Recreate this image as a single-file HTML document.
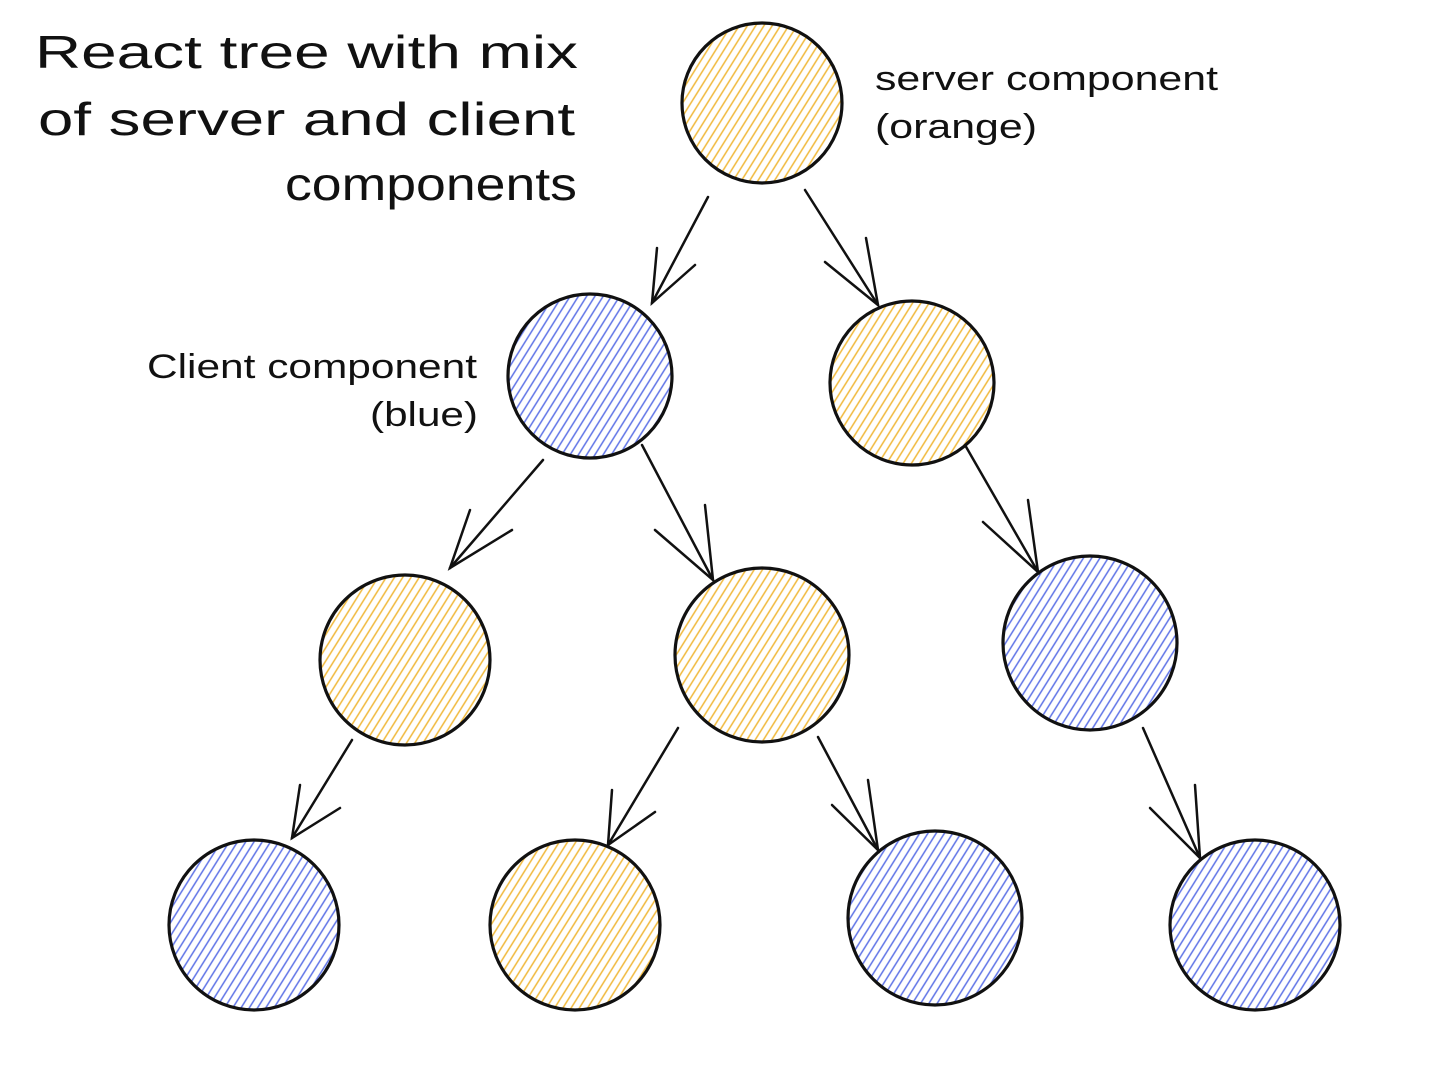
<!DOCTYPE html>
<html><head><meta charset="utf-8"><style>
html,body{margin:0;padding:0;background:#fff;}
svg{display:block;}
text{font-family:"Liberation Sans",sans-serif;fill:#111;}
</style></head><body>
<svg width="1444" height="1078" viewBox="0 0 1444 1078" xmlns="http://www.w3.org/2000/svg">
<defs>
<pattern id="ho" width="7" height="7" patternUnits="userSpaceOnUse" patternTransform="rotate(32)">
<line x1="3.5" y1="0" x2="3.5" y2="7" stroke="#f0b83a" stroke-width="1.5"/>
</pattern>
<pattern id="hb" width="7" height="7" patternUnits="userSpaceOnUse" patternTransform="rotate(32)">
<line x1="3.5" y1="0" x2="3.5" y2="7" stroke="#5d72e6" stroke-width="1.5"/>
</pattern>
</defs>

<g font-size="46">
<text x="35" y="68" textLength="543" lengthAdjust="spacingAndGlyphs">React tree with mix</text>
<text x="38" y="135" textLength="537" lengthAdjust="spacingAndGlyphs">of server and client</text>
<text x="285" y="200" textLength="292" lengthAdjust="spacingAndGlyphs">components</text>
</g>
<g font-size="34">
<text x="875" y="90" textLength="343" lengthAdjust="spacingAndGlyphs">server component</text>
<text x="875" y="138" textLength="162" lengthAdjust="spacingAndGlyphs">(orange)</text>
<text x="147" y="378" textLength="330" lengthAdjust="spacingAndGlyphs">Client component</text>
<text x="370" y="426" textLength="108" lengthAdjust="spacingAndGlyphs">(blue)</text>
</g>

<g stroke="#111" stroke-width="3.2">
<circle cx="762" cy="103" r="80" fill="url(#ho)"/>
<circle cx="590" cy="376" r="82" fill="url(#hb)"/>
<circle cx="912" cy="383" r="82" fill="url(#ho)"/>
<circle cx="405" cy="660" r="85" fill="url(#ho)"/>
<circle cx="762" cy="655" r="87" fill="url(#ho)"/>
<circle cx="1090" cy="643" r="87" fill="url(#hb)"/>
<circle cx="254" cy="925" r="85" fill="url(#hb)"/>
<circle cx="575" cy="925" r="85" fill="url(#ho)"/>
<circle cx="935" cy="918" r="87" fill="url(#hb)"/>
<circle cx="1255" cy="925" r="85" fill="url(#hb)"/>
</g>

<g stroke="#111" stroke-width="2.5" fill="none" stroke-linecap="round">
<line x1="708" y1="197" x2="652" y2="303"/><polyline points="657,248 652,303 695,265"/>
<line x1="805" y1="190" x2="878" y2="305"/><polyline points="825,262 878,305 866,238"/>
<line x1="543" y1="460" x2="450" y2="568"/><polyline points="470,510 450,568 512,530"/>
<line x1="642" y1="445" x2="713" y2="580"/><polyline points="655,530 713,580 705,505"/>
<line x1="965" y1="445" x2="1038" y2="572"/><polyline points="983,522 1038,572 1028,500"/>
<line x1="352" y1="740" x2="292" y2="838"/><polyline points="300,785 292,838 340,808"/>
<line x1="678" y1="728" x2="608" y2="845"/><polyline points="612,790 608,845 655,812"/>
<line x1="818" y1="737" x2="878" y2="850"/><polyline points="832,805 878,850 868,780"/>
<line x1="1143" y1="728" x2="1200" y2="858"/><polyline points="1150,808 1200,858 1195,785"/>
</g>
</svg>
</body></html>
